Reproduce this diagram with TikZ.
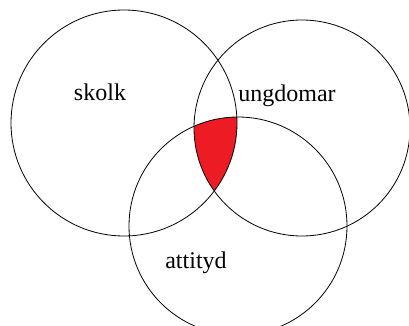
\documentclass[tikz,border=0pt]{standalone}
\usepackage{fontspec}
\setmainfont{Liberation Serif}
\usepackage{xcolor}
\usepackage{tikz}
\usetikzlibrary{positioning}
\definecolor{Overlap}{HTML}{ED1C24}

\begin{document}
\begin{tikzpicture}[x=1pt,y=-1pt,
  ring/.style={draw,line width=0.8pt},
  lbl/.style={font=\fontsize{24}{28}\selectfont,inner sep=0pt,anchor=base}]
\useasboundingbox (0,0) rectangle (409,326);
\clip (0,0) rectangle (409,326);
\coordinate (cs) at (124,123);
\coordinate (cu) at (302,128);
\coordinate (ca) at (238,226);
% shared part of all three
\begin{scope}
\clip (cs) circle[radius=113];
\clip (cu) circle[radius=108];
\fill[Overlap] (ca) circle[radius=109];
\end{scope}
\draw[ring] (cs) circle[radius=113];
\draw[ring] (cu) circle[radius=108];
\draw[ring] (ca) circle[radius=109];
\node[lbl] (skolk) at (100,100) {skolk};
\node[lbl] (ungdomar) at (287,102) {ungdomar};
\node[lbl] (attityd) at (196,268) {attityd};
\end{tikzpicture}
\end{document}
